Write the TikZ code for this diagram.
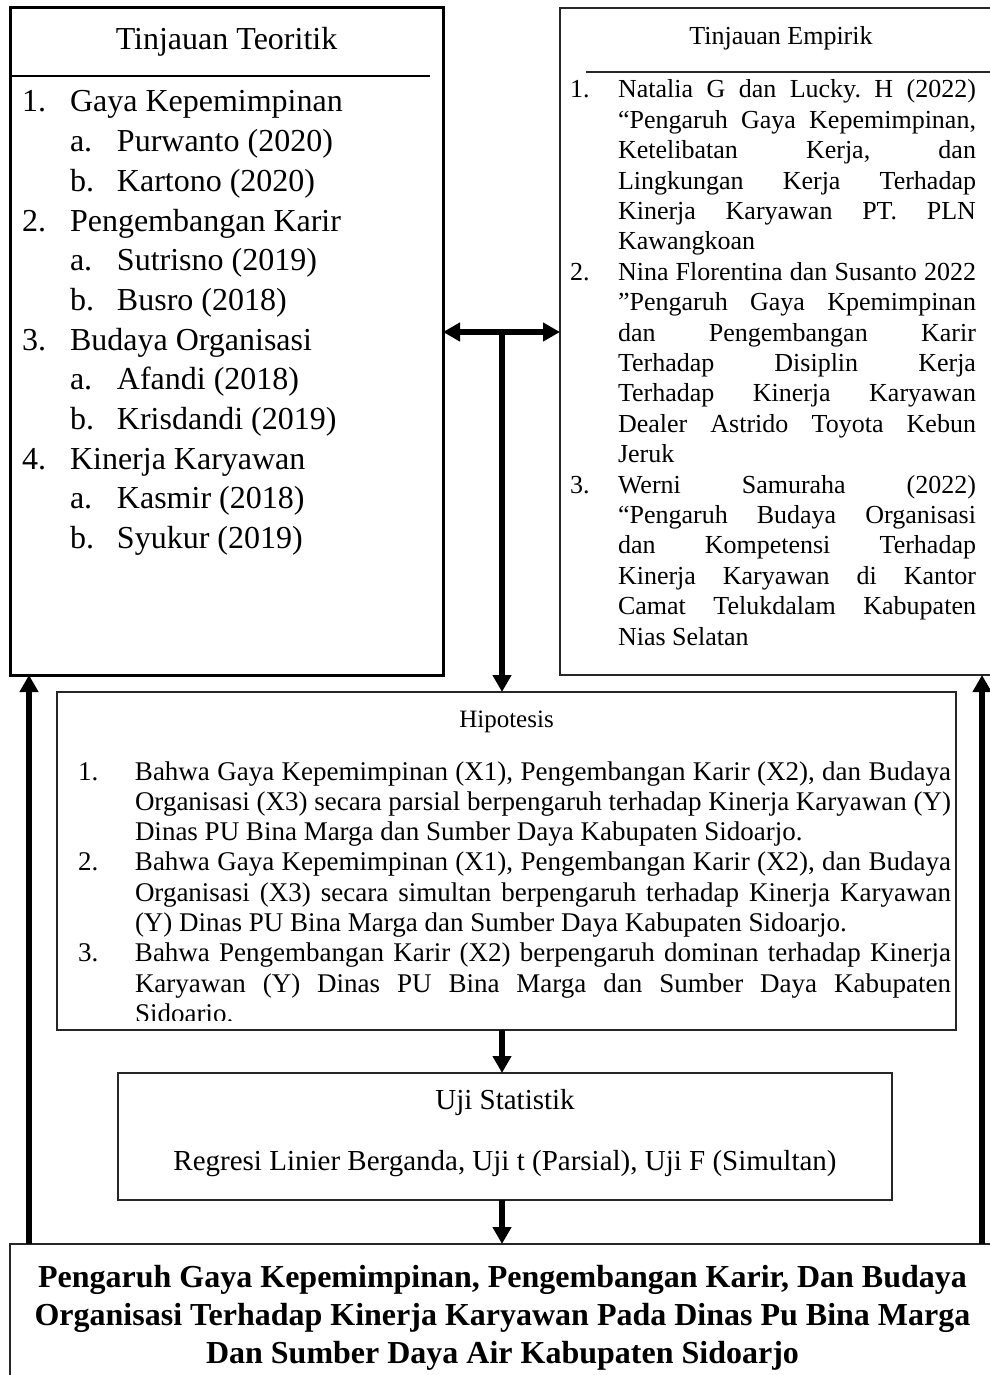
\documentclass[tikz,border=0pt]{standalone}
\usepackage{fontspec}
\setmainfont{Liberation Serif}
\usetikzlibrary{arrows.meta}
\frenchspacing

\newlength{\numw}
\newlength{\colw}
% number column + justified line, number column + last line
\newcommand{\jline}[2]{\makebox[\numw][l]{#1}\makebox[\colw][s]{#2}}
\newcommand{\eline}[2]{\makebox[\numw][l]{#1}#2}
\newcommand{\subnr}[1]{\makebox[47pt][l]{#1}}

\begin{document}
\begin{tikzpicture}[x=1pt,y=-1pt,
  box/.style={draw=black!85,line width=1.3pt,outer sep=0pt,inner sep=0pt,anchor=north west},
  txt/.style={inner sep=0pt,outer sep=0pt},
  >={Triangle[length=17pt,width=18pt]},
  arr/.style={line width=6pt,->}]

\useasboundingbox (0,0) rectangle (989,1375);

% boxes
\node[box,draw=black,line width=3pt,minimum width=433pt,minimum height=667pt] (teori) at (10,8) {};
\node[box,minimum width=440pt,minimum height=667pt] (empiri) at (560,8) {};
\node[box,minimum width=899pt,minimum height=338pt] (hipo) at (57,692) {};
\node[box,minimum width=774pt,minimum height=127pt] (uji) at (118,1073) {};
\node[box,minimum width=985pt,minimum height=200pt] (judul) at (10,1244) {};

\draw[line width=1.3pt] (teori.west |- 0,76) -- (430,76);
\draw[line width=1.3pt,draw=black!85] (586,72) -- (empiri.east |- 0,72);

% tinjauan teoritik
\node[txt,anchor=base,font=\fontsize{32}{38}\selectfont] (teorihead) at (teori.center |- 0,50) {Tinjauan Teoritik};
\node[txt,anchor=base west] (teorilist) at (22,112) {\parbox[t]{420pt}{\fontsize{32}{39.7}\selectfont
\setlength{\numw}{48pt}%
\eline{1.}{Gaya Kepemimpinan}\\
\eline{}{\subnr{a.}Purwanto (2020)}\\
\eline{}{\subnr{b.}Kartono (2020)}\\
\eline{2.}{Pengembangan Karir}\\
\eline{}{\subnr{a.}Sutrisno (2019)}\\
\eline{}{\subnr{b.}Busro (2018)}\\
\eline{3.}{Budaya Organisasi}\\
\eline{}{\subnr{a.}Afandi (2018)}\\
\eline{}{\subnr{b.}Krisdandi (2019)}\\
\eline{4.}{Kinerja Karyawan}\\
\eline{}{\subnr{a.}Kasmir (2018)}\\
\eline{}{\subnr{b.}Syukur (2019)}%
}};

% tinjauan empirik
\node[txt,anchor=base,font=\fontsize{26}{30}\selectfont] (empirihead) at (781,45) {Tinjauan Empirik};
\node[txt,anchor=base west] (empirilist) at (570,98) {\parbox[t]{406pt}{\fontsize{26}{30.4}\selectfont
\setlength{\numw}{48pt}\setlength{\colw}{358pt}%
\jline{1.}{Natalia G dan Lucky. H (2022)}\\
\jline{}{“Pengaruh Gaya Kepemimpinan,}\\
\jline{}{Ketelibatan Kerja, dan}\\
\jline{}{Lingkungan Kerja Terhadap}\\
\jline{}{Kinerja Karyawan PT. PLN}\\
\eline{}{Kawangkoan}\\
\jline{2.}{Nina Florentina dan Susanto 2022}\\
\jline{}{”Pengaruh Gaya Kpemimpinan}\\
\jline{}{dan Pengembangan Karir}\\
\jline{}{Terhadap Disiplin Kerja}\\
\jline{}{Terhadap Kinerja Karyawan}\\
\jline{}{Dealer Astrido Toyota Kebun}\\
\eline{}{Jeruk}\\
\jline{3.}{Werni Samuraha (2022)}\\
\jline{}{“Pengaruh Budaya Organisasi}\\
\jline{}{dan Kompetensi Terhadap}\\
\jline{}{Kinerja Karyawan di Kantor}\\
\jline{}{Camat Telukdalam Kabupaten}\\
\eline{}{Nias Selatan}%
}};

% hipotesis
\node[txt,anchor=base,font=\fontsize{25}{30}\selectfont] (hipohead) at (hipo.center |- 0,727) {Hipotesis};
\begin{scope}
\clip (57,692) rectangle (956,1020);
\node[txt,anchor=base west] (hipolist) at (78,780) {\parbox[t]{873pt}{\fontsize{27}{30.3}\selectfont
\setlength{\numw}{57pt}\setlength{\colw}{816pt}%
\jline{1.}{Bahwa Gaya Kepemimpinan (X1), Pengembangan Karir (X2), dan Budaya}\\
\jline{}{Organisasi (X3) secara parsial berpengaruh terhadap Kinerja Karyawan (Y)}\\
\eline{}{Dinas PU Bina Marga dan Sumber Daya Kabupaten Sidoarjo.}\\
\jline{2.}{Bahwa Gaya Kepemimpinan (X1), Pengembangan Karir (X2), dan Budaya}\\
\jline{}{Organisasi (X3) secara simultan berpengaruh terhadap Kinerja Karyawan}\\
\eline{}{(Y) Dinas PU Bina Marga dan Sumber Daya Kabupaten Sidoarjo.}\\
\jline{3.}{Bahwa Pengembangan Karir (X2) berpengaruh dominan terhadap Kinerja}\\
\jline{}{Karyawan (Y) Dinas PU Bina Marga dan Sumber Daya Kabupaten}\\
\eline{}{Sidoarjo.}%
}};
\end{scope}

% uji statistik
\node[txt,anchor=base,font=\fontsize{29}{34}\selectfont] (ujihead) at (uji.center |- 0,1109) {Uji Statistik};
\node[txt,anchor=base,font=\fontsize{29}{34}\selectfont] (ujitext) at (uji.center |- 0,1170) {Regresi Linier Berganda, Uji t (Parsial), Uji F (Simultan)};

% judul
\node[txt,anchor=base] (judultext) at (judul.center |- 0,1287) {\parbox[t]{980pt}{\centering\fontsize{32}{38}\selectfont\bfseries
Pengaruh Gaya Kepemimpinan, Pengembangan Karir, Dan Budaya\\
Organisasi Terhadap Kinerja Karyawan Pada Dinas Pu Bina Marga\\
Dan Sumber Daya Air Kabupaten Sidoarjo}};

% arrows
\coordinate (split) at (502,332);
\coordinate (lft) at (29,0);
\coordinate (rgt) at (982,0);
\draw[line width=6pt,<->] (teori.east |- split) -- (empiri.west |- split);
\draw[arr] (split) -- (hipo.north -| split);
\draw[arr] (hipo.south -| split) -- (uji.north -| split);
\draw[arr] (uji.south -| split) -- (judul.north -| split);
\foreach \side/\goal in {lft/teori,rgt/empiri}
  \draw[arr] (judul.north -| \side) -- (\goal.south -| \side);
\end{tikzpicture}
\end{document}
